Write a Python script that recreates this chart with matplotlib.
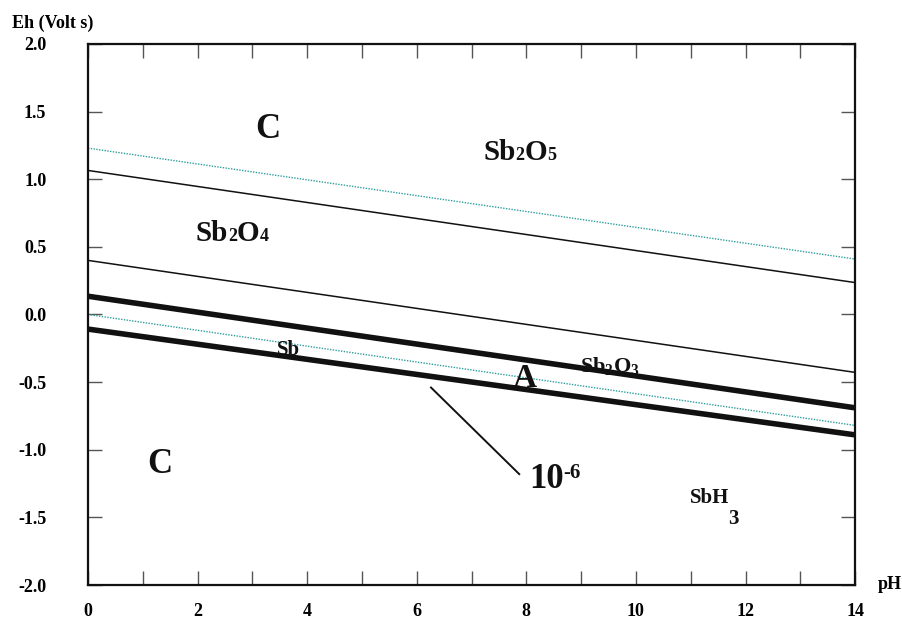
import numpy as np
import matplotlib
matplotlib.use("Agg")
import matplotlib.pyplot as plt
from matplotlib.offsetbox import TextArea, HPacker, AnnotationBbox

plt.rcParams['font.family'] = ['Liberation Serif', 'DejaVu Serif']
plt.rcParams['font.weight'] = 'bold'

# pH end points of every boundary line
ph_ends = [0, 14]

# Eh values (V) at pH 0 and pH 14
water_upper = [1.23, 0.41]      # O2 / H2O (dotted)
water_lower = [0.0, -0.82]      # H2O / H2 (dotted)
sb2o5_sb2o4 = [1.065, 0.236]
sb2o4_sb2o3 = [0.40, -0.428]
sb2o3_sb = [0.135, -0.69]       # 10^-6 boundary (thick)
sb_sbh3 = [-0.108, -0.89]       # 10^-6 boundary (thick)

# leader line for the 10^-6 label
leader_x = [6.26, 7.87]
leader_y = [-0.54, -1.18]

x_ticks = list(range(0, 15))
x_labels = [str(t) if t % 2 == 0 else '' for t in x_ticks]
y_ticks = [-2.0, -1.5, -1.0, -0.5, 0.0, 0.5, 1.0, 1.5, 2.0]
y_labels = ['%.1f' % t for t in y_ticks]

tc = '#111111'


def packed_label(ax, x, y, parts, align='baseline'):
    # parts: list of (text, fontsize)
    boxes = [TextArea(t, textprops=dict(fontsize=s, weight='bold', color=tc))
             for t, s in parts]
    box = HPacker(children=boxes, align=align, pad=0, sep=0)
    ab = AnnotationBbox(box, (x, y), xycoords='data', frameon=False,
                        box_alignment=(0.5, 0.5), pad=0)
    ax.add_artist(ab)


fig = plt.figure(figsize=(9.02, 6.24), dpi=100)
ax = fig.add_axes([0.0976, 0.0625, 0.8504, 0.867])

teal = '#2f9e9e'
ax.plot(ph_ends, water_upper, color=teal, lw=1.0, ls=(0, (1, 1)))
ax.plot(ph_ends, water_lower, color=teal, lw=1.0, ls=(0, (1, 1)))
ax.plot(ph_ends, sb2o5_sb2o4, color=tc, lw=1.1)
ax.plot(ph_ends, sb2o4_sb2o3, color=tc, lw=1.1)
ax.plot(ph_ends, sb2o3_sb, color=tc, lw=4.0, solid_capstyle='butt')
ax.plot(ph_ends, sb_sbh3, color=tc, lw=4.0, solid_capstyle='butt')
ax.plot(leader_x, leader_y, color=tc, lw=1.4)

ax.text(3.28, 1.37, 'C', fontsize=25, ha='center', va='center', color=tc)
ax.text(1.31, -1.11, 'C', fontsize=25, ha='center', va='center', color=tc)
packed_label(ax, 7.88, 1.20, [('Sb', 21), ('2', 13), ('O', 21), ('5', 13)])
packed_label(ax, 2.63, 0.60, [('Sb', 21), ('2', 13), ('O', 21), ('4', 13)])
ax.text(3.65, -0.26, 'Sb', fontsize=15, ha='center', va='center', color=tc)
ax.text(9.53, -0.38, r'Sb$\mathregular{_2}$O$\mathregular{_3}$',
        fontsize=16, ha='center', va='center', color=tc)
ax.text(7.97, -0.47, 'A', fontsize=24, ha='center', va='center', color=tc)
packed_label(ax, 8.52, -1.22, [('10', 25), ('-6', 15)], align='top')
ax.text(11.35, -1.36, 'SbH', fontsize=15, ha='center', va='center', color=tc)
ax.text(11.77, -1.51, '3', fontsize=15, ha='center', va='center', color=tc)

ax.set_xlim(0, 14)
ax.set_ylim(-2, 2)
ax.set_xticks(x_ticks)
ax.set_xticklabels(x_labels)
ax.set_yticks(y_ticks)
ax.set_yticklabels(y_labels)
ax.tick_params(axis='both', direction='in', length=10, width=1.0,
               color='#555555', labelsize=13, top=True, right=True)
ax.tick_params(axis='x', pad=13)
ax.tick_params(axis='y', pad=30)
for s in ax.spines.values():
    s.set_linewidth(1.6)
    s.set_color(tc)

fig.text(0.058, 0.962, 'Eh (Volt s)', fontsize=13, weight='bold',
         ha='center', va='center')
fig.text(0.987, 0.063, 'pH', fontsize=13, weight='bold',
         ha='center', va='center')

fig.savefig('out.png', dpi=100)
